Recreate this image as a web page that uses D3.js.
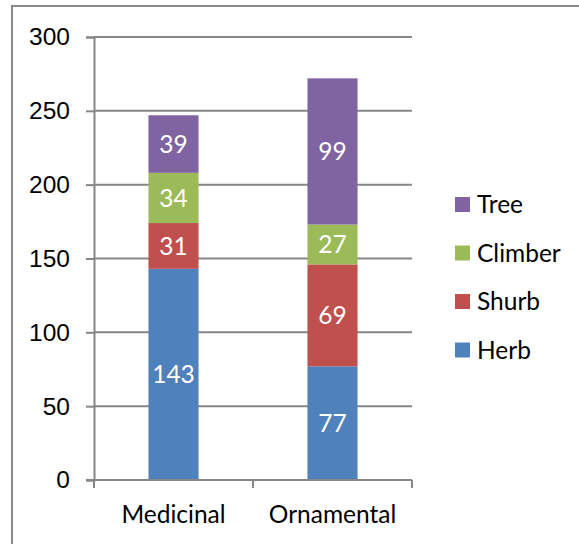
<!DOCTYPE html>
<html>
<head>
<meta charset="utf-8">
<script src="https://cdn.jsdelivr.net/npm/d3@7"></script>
<style>
  body { margin: 0; background: #fff; }
  svg { display: block; font-family: Lato, "Open Sans", sans-serif; }
</style>
</head>
<body>
<svg id="chart" width="579" height="544"></svg>
<script>
const categories = ["Medicinal", "Ornamental"];
const seriesNames = ["Herb", "Shurb", "Climber", "Tree"];
const herb = [143, 77];
const shurb = [31, 69];
const climber = [34, 27];
const tree = [39, 99];
const yTicks = [0, 50, 100, 150, 200, 250, 300];

const colors = ["#4F81BD", "#C0504D", "#9BBB59", "#8064A2"];
const gridColor = "#868686";
const fontSize = "24.5px";

const svg = d3.select("#chart");

// outer frame
svg.append("rect")
  .attr("x", 12).attr("y", 6)
  .attr("width", 600).attr("height", 600)
  .attr("fill", "none")
  .attr("stroke", "#888")
  .attr("stroke-width", 2);

const plot = { left: 94, right: 412, top: 37, bottom: 480 };

const x = d3.scaleBand()
  .domain(categories)
  .range([plot.left, plot.right])
  .paddingInner(0.685)
  .paddingOuter(0.3425);

const y = d3.scaleLinear()
  .domain([0, 300])
  .range([plot.bottom, plot.top]);

// gridlines + y axis
const yAxis = svg.append("g")
  .attr("transform", `translate(${plot.left},0)`)
  .call(d3.axisLeft(y).tickValues(yTicks).tickSize(8).tickPadding(16));
yAxis.select(".domain").attr("stroke", gridColor).attr("stroke-width", 2);
yAxis.selectAll(".tick line").attr("stroke", gridColor).attr("stroke-width", 2);
yAxis.selectAll(".tick text")
  .attr("fill", "#000")
  .style("font-size", fontSize);

svg.append("g")
  .selectAll("line")
  .data(yTicks.filter(d => d > 0))
  .join("line")
  .attr("x1", plot.left).attr("x2", plot.right)
  .attr("y1", d => y(d)).attr("y2", d => y(d))
  .attr("stroke", gridColor)
  .attr("stroke-width", 2);

// stacked data
const table = categories.map((c, i) => ({
  category: c,
  Herb: herb[i], Shurb: shurb[i], Climber: climber[i], Tree: tree[i]
}));
const stacked = d3.stack().keys(seriesNames)(table);

const layers = svg.append("g")
  .selectAll("g")
  .data(stacked)
  .join("g")
  .attr("fill", (d, i) => colors[i]);

layers.selectAll("rect")
  .data(d => d)
  .join("rect")
  .attr("x", d => x(d.data.category))
  .attr("width", x.bandwidth())
  .attr("y", d => y(d[1]))
  .attr("height", d => y(d[0]) - y(d[1]));

layers.selectAll("text")
  .data(d => d)
  .join("text")
  .attr("x", d => x(d.data.category) + x.bandwidth() / 2)
  .attr("y", d => (y(d[0]) + y(d[1])) / 2)
  .attr("dy", "0.35em")
  .attr("text-anchor", "middle")
  .attr("fill", "#fff")
  .style("font-size", fontSize)
  .text(d => d[1] - d[0]);

// x axis
const xAxisG = svg.append("g").attr("transform", `translate(0,${plot.bottom})`);
xAxisG.append("line")
  .attr("x1", plot.left - 8).attr("x2", plot.right)
  .attr("stroke", gridColor).attr("stroke-width", 2);
const xTickPos = [plot.left, (plot.left + plot.right) / 2, plot.right];
xAxisG.selectAll(".xt")
  .data(xTickPos)
  .join("line")
  .attr("x1", d => d).attr("x2", d => d)
  .attr("y1", 0).attr("y2", 8)
  .attr("stroke", gridColor).attr("stroke-width", 2);
xAxisG.selectAll(".xl")
  .data(categories)
  .join("text")
  .attr("x", d => x(d) + x.bandwidth() / 2)
  .attr("y", 43)
  .attr("text-anchor", "middle")
  .style("font-size", fontSize)
  .text(d => d);

// legend (Tree on top)
const legendItems = seriesNames.map((s, i) => ({ name: s, color: colors[i] })).reverse();
const legend = svg.append("g")
  .selectAll("g")
  .data(legendItems)
  .join("g")
  .attr("transform", (d, i) => `translate(455,${197 + i * 48.5})`);
legend.append("rect")
  .attr("width", 15).attr("height", 15)
  .attr("fill", d => d.color);
legend.append("text")
  .attr("x", 22).attr("y", 7.5)
  .attr("dy", "0.35em")
  .style("font-size", fontSize)
  .text(d => d.name);
</script>
</body>
</html>
